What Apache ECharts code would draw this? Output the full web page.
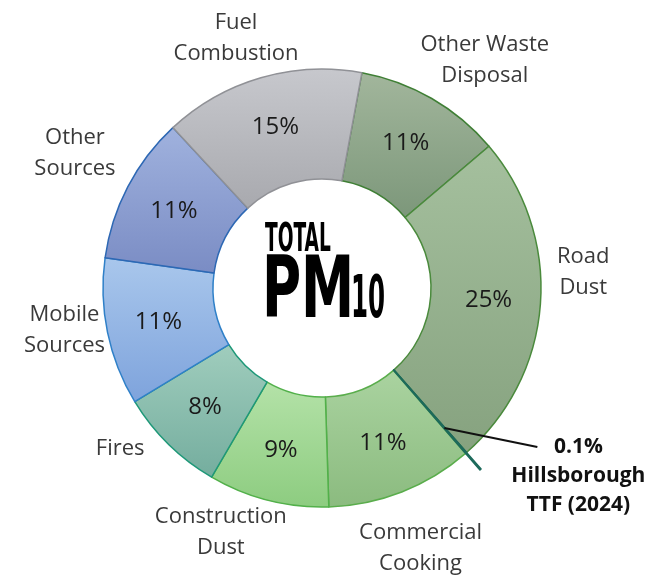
<!DOCTYPE html>
<html>
<head>
<meta charset="utf-8">
<script src="https://cdn.jsdelivr.net/npm/echarts@6/dist/echarts.min.js"></script>
<style>
  html, body { margin: 0; padding: 0; background: #fff; }
  #chart { width: 649px; height: 575px; }
</style>
</head>
<body>
<div id="chart"></div>
<script>
// clockwise, starting at the Fuel Combustion / Other Waste boundary
const categories = [
  'Other Waste Disposal', 'Road Dust', 'Hillsborough TTF (2024)', 'Commercial Cooking',
  'Construction Dust', 'Fires', 'Mobile Sources', 'Other Sources', 'Fuel Combustion',
]
const shares = [11, 25, 0.1, 11, 9, 8, 11, 11, 15]
const nameLabels = [
  'Other Waste\nDisposal', 'Road\nDust', '', 'Commercial\nCooking',
  'Construction\nDust', 'Fires', 'Mobile\nSources', 'Other\nSources', 'Fuel\nCombustion',
]
const ttfName = 'Hillsborough TTF (2024)'
const ttfLabel = ['0.1%', 'Hillsborough', 'TTF (2024)']

// [top, bottom, border]
const palette = [
  ['#a2b69c', '#7c977a', '#3f7f35'],
  ['#a5c09e', '#86a27f', '#4a8a3c'],
  ['#1d6a5b', '#1d6a5b', '#1d6a5b'],
  ['#aad3a0', '#8bbb7f', '#5aad4c'],
  ['#b4e2a8', '#8dcc80', '#52b04a'],
  ['#a0cdbd', '#74ad9e', '#1e9878'],
  ['#a9c7ec', '#7ea3dc', '#2f80c8'],
  ['#a0b2de', '#7a8cc4', '#2d68b4'],
  ['#c7c8cd', '#a8a9ae', '#909196'],
]
// small nudges so the outer names sit where the original put them
const nameNudge = [[30, 2], [-3, -35], [0, 0], [2, 13], [-36, -13], [-16, -28], [2, -11], [-12, -12], [-12, 5]]

const center = [322, 288]
const startAngle = 79.5
const textFont = '"Open Sans", "Noto Sans", sans-serif'
const titleFont = '"Liberation Sans Narrow", "DejaVu Sans Condensed", sans-serif'
const blank = 'rgba(0,0,0,0)'

function grad(top, bottom) {
  return new echarts.graphic.LinearGradient(0, 0, 0, 1, [
    { offset: 0, color: top },
    { offset: 1, color: bottom },
  ])
}

const ringData = categories.map((name, i) => ({
  name,
  value: shares[i],
  itemStyle: { color: grad(palette[i][0], palette[i][1]), borderColor: palette[i][2], borderWidth: 1.5 },
  label: { show: name !== ttfName },
}))

const nameData = categories.map((name, i) => ({
  name,
  value: shares[i],
  label: { show: nameLabels[i] !== '', formatter: nameLabels[i], offset: nameNudge[i] },
}))

const lineData = categories.map((name, i) => ({
  name,
  value: shares[i],
  itemStyle: name === ttfName
    ? { color: palette[i][0], borderColor: palette[i][0], borderWidth: 1.5 }
    : { color: blank, borderWidth: 0 },
}))

const calloutData = categories.map((name, i) => ({
  name,
  value: shares[i],
  label: { show: name === ttfName },
  labelLine: { show: name === ttfName },
}))

const common = {
  type: 'pie',
  center,
  startAngle,
  clockwise: true,
  avoidLabelOverlap: false,
  silent: true,
  emphasis: { disabled: true },
  animation: false,
}

const chart = echarts.init(document.getElementById('chart'), null, { renderer: 'canvas' })
chart.setOption({
  backgroundColor: '#ffffff',
  series: [
    {
      ...common,
      name: 'ring',
      radius: [109, 219],
      data: ringData,
      label: {
        position: 'inside',
        formatter: (p) => p.value + '%',
        color: '#1a1a1a',
        fontFamily: textFont,
        fontSize: 24,
      },
      labelLine: { show: false },
    },
    {
      ...common,
      name: 'names',
      radius: [219, 305],
      data: nameData,
      itemStyle: { color: blank, borderWidth: 0 },
      label: {
        position: 'inside',
        color: '#3a3a3a',
        fontFamily: textFont,
        fontSize: 22,
        lineHeight: 31,
        align: 'center',
      },
      labelLine: { show: false },
    },
    {
      ...common,
      name: 'ttf line',
      z: 3,
      radius: [109, 241],
      data: lineData,
      label: { show: false },
      labelLine: { show: false },
    },
    {
      ...common,
      name: 'ttf callout',
      z: 4,
      radius: [109, 186],
      data: calloutData,
      itemStyle: { color: blank, borderWidth: 0 },
      label: {
        position: 'outside',
        alignTo: 'none',
        distanceToLabelLine: -27,
        width: 136,
        overflow: 'none',
        padding: [96, 0, 0, 0],
        formatter: () => ttfLabel.map((t) => '{t|' + t + '}').join('\n'),
        rich: {
          t: {
            align: 'center',
            color: '#111',
            fontFamily: textFont,
            fontWeight: 'bold',
            fontSize: 21,
            lineHeight: 29,
          },
        },
      },
      labelLine: {
        length: 0,
        length2: 93,
        lineStyle: { color: '#111', width: 2 },
      },
      // let the leader run straight from the ring down to the first text line
      labelLayout: (params) => {
        const pts = params.labelLinePoints
        if (!pts) return {}
        return { labelLinePoints: [pts[0], pts[0], [pts[2][0], pts[2][1] + 19]] }
      },
    },
  ],
  graphic: [
    {
      type: 'text', x: 265, y: 241, scaleX: 0.53, silent: true,
      style: { text: 'TOTAL', font: 'bold 39px ' + titleFont, fill: '#000', verticalAlign: 'middle', align: 'left' },
    },
    {
      type: 'text', x: 262, y: 295, scaleX: 0.69, silent: true,
      style: { text: 'PM', font: 'bold 86px ' + titleFont, fill: '#000', verticalAlign: 'middle', align: 'left' },
    },
    {
      type: 'text', x: 351, y: 302, scaleX: 0.47, silent: true,
      style: { text: '10', font: 'bold 58px ' + titleFont, fill: '#000', verticalAlign: 'middle', align: 'left' },
    },
  ],
})
</script>
</body>
</html>
